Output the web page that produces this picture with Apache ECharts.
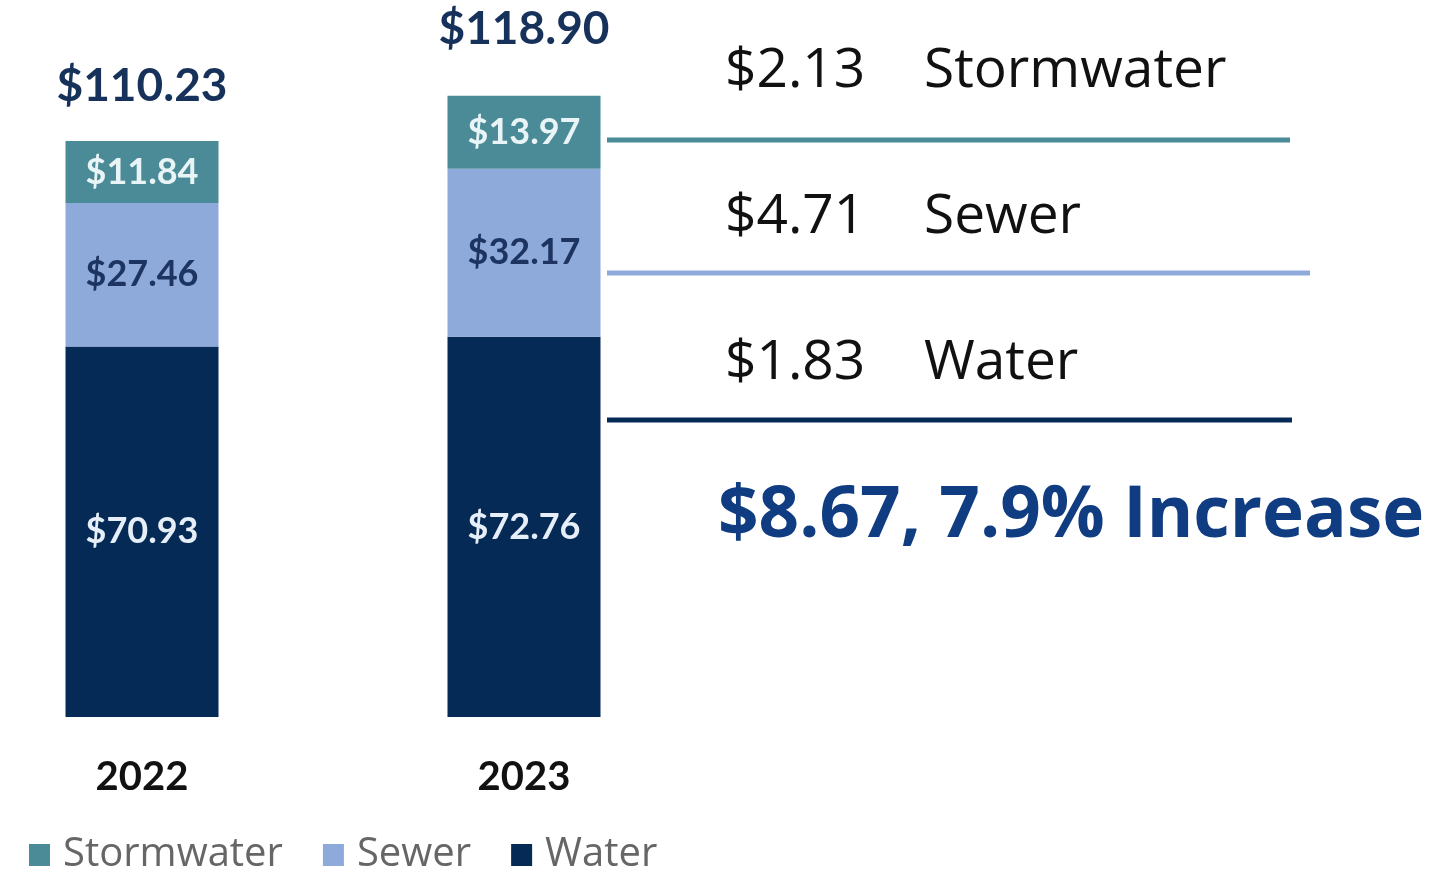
<!DOCTYPE html>
<html>
<head>
<meta charset="utf-8">
<script src="https://cdn.jsdelivr.net/npm/echarts@6/dist/echarts.min.js"></script>
<style>
  html, body { margin: 0; padding: 0; background: #fff; }
  #chart { width: 1433px; height: 879px; }
</style>
</head>
<body>
<div id="chart"></div>
<script>
const years = ['2022', '2023'];
const seriesNames = ['Stormwater', 'Sewer', 'Water'];
const water = [70.93, 72.76];
const sewer = [27.46, 32.17];
const stormwater = [11.84, 13.97];

const colors = {
  Stormwater: '#4a8b97',
  Sewer: '#8eaadb',
  Water: '#042a55'
};

const totals = years.map((_, i) => +(water[i] + sewer[i] + stormwater[i]).toFixed(2));
const money = (v) => '$' + v.toFixed(2);

const chart = echarts.init(document.getElementById('chart'));

function segmentLabel(color) {
  return {
    show: true,
    position: 'inside',
    color: color,
    fontFamily: 'Lato',
    fontWeight: 'bold',
    fontSize: 36,
    formatter: (p) => money(p.value)
  };
}

// differences shown on the right
const diffRows = [
  { name: 'Stormwater', value: stormwater[1] - stormwater[0], y: 70, lineY: 140, x2: 1290 },
  { name: 'Sewer', value: sewer[1] - sewer[0], y: 216, lineY: 273, x2: 1310 },
  { name: 'Water', value: water[1] - water[0], y: 362, lineY: 420, x2: 1292 }
];
const totalDiff = totals[1] - totals[0];
const pct = (totalDiff / totals[0]) * 100;

const graphics = [];
diffRows.forEach((row) => {
  graphics.push({
    type: 'text',
    left: 725,
    top: row.y - 26,
    style: {
      text: money(row.value),
      font: '55px "Open Sans"',
      fill: '#111'
    }
  });
  graphics.push({
    type: 'text',
    left: 924,
    top: row.y - 26,
    style: {
      text: row.name,
      font: '55px "Open Sans"',
      fill: '#111'
    }
  });
  graphics.push({
    type: 'line',
    shape: { x1: 607, y1: row.lineY, x2: row.x2, y2: row.lineY },
    style: { stroke: colors[row.name], lineWidth: 5 }
  });
});
graphics.push({
  type: 'text',
  left: 718,
  top: 481,
  style: {
    text: money(totalDiff) + ', ' + pct.toFixed(1) + '% Increase',
    font: 'bold 71px "Open Sans"',
    fill: '#103c82'
  }
});

const option = {
  backgroundColor: '#fff',
  animation: false,
  grid: { left: 142, right: 909, top: 90, bottom: 162 },
  legend: {
    data: seriesNames,
    left: 24,
    top: 830,
    icon: 'rect',
    itemWidth: 21,
    itemHeight: 22,
    itemGap: 40,
    textStyle: {
      fontFamily: 'Open Sans',
      fontSize: 40,
      color: '#666',
      padding: [0, 0, 0, 8]
    }
  },
  xAxis: {
    type: 'category',
    data: years,
    boundaryGap: false,
    axisLine: { show: false },
    axisTick: { show: false },
    axisLabel: {
      margin: 40,
      color: '#111',
      fontFamily: 'Lato',
      fontWeight: 'bold',
      fontSize: 40
    }
  },
  yAxis: {
    type: 'value',
    min: 0,
    max: 120,
    show: false,
    splitLine: { show: false }
  },
  series: [
    {
      name: 'Water',
      type: 'bar',
      stack: 'total',
      barWidth: 153,
      clip: false,
      itemStyle: { color: colors.Water },
      label: segmentLabel('#e6eef8'),
      data: water
    },
    {
      name: 'Sewer',
      type: 'bar',
      stack: 'total',
      barWidth: 153,
      clip: false,
      itemStyle: { color: colors.Sewer },
      label: segmentLabel('#1d3461'),
      data: sewer
    },
    {
      name: 'Stormwater',
      type: 'bar',
      stack: 'total',
      barWidth: 153,
      clip: false,
      itemStyle: { color: colors.Stormwater },
      label: segmentLabel('#e8f4f6'),
      data: stormwater
    },
    {
      name: 'Total',
      type: 'scatter',
      symbolSize: 0,
      clip: false,
      itemStyle: { opacity: 1 },
      label: {
        show: true,
        position: 'top',
        distance: 36,
        color: '#17325a',
        fontFamily: 'Lato',
        fontWeight: 'bold',
        fontSize: 46,
        formatter: (p) => money(p.value)
      },
      data: totals.map((v, i) => ({
        value: v,
        label: { distance: i === 1 ? 44 : 32 }
      }))
    }
  ],
  graphic: graphics
};

chart.setOption(option);
window.addEventListener('resize', () => chart.resize());
</script>
</body>
</html>
